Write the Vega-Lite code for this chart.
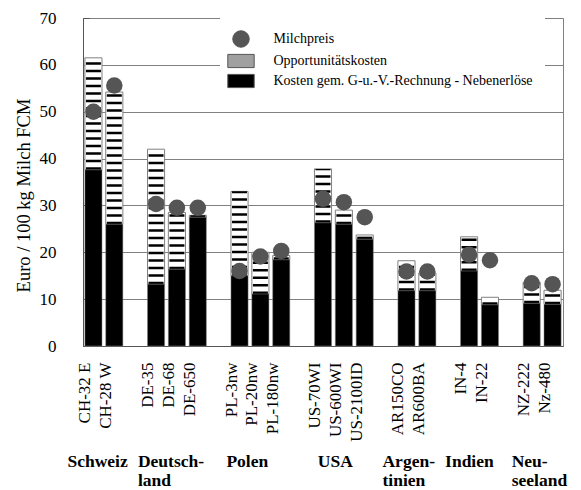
{
  "$schema": "https://vega.github.io/schema/vega-lite/v6.json",
  "width": 480,
  "height": 328,
  "autosize": {"type": "none"},
  "padding": {"left": 83, "top": 18, "right": 18, "bottom": 144},
  "background": "white",
  "config": {
    "font": "Liberation Serif",
    "view": {"stroke": "#808080", "strokeWidth": 1},
    "axis": {"labelFont": "Liberation Serif", "titleFont": "Liberation Serif", "labelColor": "black", "titleColor": "black", "domainColor": "#555555", "gridColor": "#808080", "tickColor": "#555555"},
    "legend": {"labelFont": "Liberation Serif"}
  },
  "data": {
    "values": [
      {"Betrieb": "CH-32 E", "Kosten": 37.6, "Gesamt": 61.5, "Milchpreis": 50.0},
      {"Betrieb": "CH-28 W", "Kosten": 26.0, "Gesamt": 54.2, "Milchpreis": 55.6},
      {"Betrieb": "DE-35", "Kosten": 13.2, "Gesamt": 42.0, "Milchpreis": 30.3},
      {"Betrieb": "DE-68", "Kosten": 16.4, "Gesamt": 28.5, "Milchpreis": 29.5},
      {"Betrieb": "DE-650", "Kosten": 27.5, "Gesamt": 27.9, "Milchpreis": 29.5},
      {"Betrieb": "PL-3nw", "Kosten": 15.0, "Gesamt": 33.0, "Milchpreis": 16.0},
      {"Betrieb": "PL-20nw", "Kosten": 11.1, "Gesamt": 20.0, "Milchpreis": 19.1},
      {"Betrieb": "PL-180nw", "Kosten": 18.4, "Gesamt": 19.3, "Milchpreis": 20.3},
      {"Betrieb": "US-70WI", "Kosten": 26.3, "Gesamt": 37.8, "Milchpreis": 31.4},
      {"Betrieb": "US-600WI", "Kosten": 26.0, "Gesamt": 29.0, "Milchpreis": 30.7},
      {"Betrieb": "US-2100ID", "Kosten": 22.8, "Gesamt": 23.7, "Milchpreis": 27.5},
      {"Betrieb": "AR150CO", "Kosten": 11.8, "Gesamt": 18.2, "Milchpreis": 15.9},
      {"Betrieb": "AR600BA", "Kosten": 11.8, "Gesamt": 15.6, "Milchpreis": 15.9},
      {"Betrieb": "IN-4", "Kosten": 16.0, "Gesamt": 23.3, "Milchpreis": 19.5},
      {"Betrieb": "IN-22", "Kosten": 8.8, "Gesamt": 10.4, "Milchpreis": 18.3},
      {"Betrieb": "NZ-222", "Kosten": 9.1, "Gesamt": 13.6, "Milchpreis": 13.4},
      {"Betrieb": "Nz-480", "Kosten": 8.9, "Gesamt": 11.9, "Milchpreis": 13.2}
    ]
  },
  "resolve": {"axis": {"x": "independent"}},
  "layer": [
    {
      "mark": {"type": "bar", "stroke": "#808080", "strokeWidth": 1, "fill": "white"},
      "encoding": {
        "x": {
          "field": "Betrieb", "type": "nominal",
          "scale": {"domain": ["CH-32 E", "CH-28 W", "_1", "DE-35", "DE-68", "DE-650", "_2", "PL-3nw", "PL-20nw", "PL-180nw", "_3", "US-70WI", "US-600WI", "US-2100ID", "_4", "AR150CO", "AR600BA", "_5", "IN-4", "IN-22", "_6", "NZ-222", "Nz-480"], "paddingInner": 0.18, "paddingOuter": 0.09},
          "axis": {
            "title": null, "orient": "bottom",
            "values": ["CH-32 E", "CH-28 W", "DE-35", "DE-68", "DE-650", "PL-3nw", "PL-20nw", "PL-180nw", "US-70WI", "US-600WI", "US-2100ID", "AR150CO", "AR600BA", "IN-4", "IN-22", "NZ-222", "Nz-480"],
            "labelAngle": -90, "labelFontSize": 17, "ticks": false, "labelPadding": 16, "labelOffset": -8, "labelOverlap": false, "grid": false
          }
        },
        "y": {
          "field": "Kosten", "type": "quantitative",
          "scale": {"domain": [0, 70], "nice": false},
          "axis": {
            "title": "Euro / 100 kg Milch FCM", "titleFontSize": 18.5, "titleFontWeight": "normal", "titlePadding": 6, "titleY": 177,
            "values": [0, 5, 10, 15, 20, 25, 30, 35, 40, 45, 50, 55, 60, 65, 70],
            "labelExpr": "datum.value % 10 === 0 ? datum.label : ''",
            "labelFontSize": 17, "labelPadding": 33, "tickSize": -6,
            "grid": true,
            "gridOpacity": {"condition": {"test": "datum.value % 10 !== 0", "value": 0}, "value": 1}
          }
        },
        "y2": {"field": "Gesamt"}
      }
    },
    {
      "mark": {"type": "rule", "strokeWidth": 15, "strokeDash": [2.5, 5], "color": "black", "strokeCap": "butt"},
      "encoding": {
        "x": {"field": "Betrieb", "type": "nominal", "axis": null},
        "y": {"field": "Kosten", "type": "quantitative"},
        "y2": {"field": "Gesamt"}
      }
    },
    {
      "mark": {"type": "bar", "stroke": "#808080", "strokeWidth": 0.5},
      "encoding": {
        "x": {"field": "Betrieb", "type": "nominal", "axis": null},
        "y": {"field": "Kosten", "type": "quantitative"},
        "y2": {"datum": 0},
        "fill": {
          "datum": "Kosten gem. G-u.-V.-Rechnung - Nebenerlöse", "type": "nominal",
          "scale": {
            "domain": ["Milchpreis", "Opportunitätskosten", "Kosten gem. G-u.-V.-Rechnung - Nebenerlöse"],
            "range": ["#555555", "#a0a0a0", "black"]
          },
          "legend": {
            "title": null, "orient": "none", "legendX": 137, "legendY": 0,
            "fillColor": "white", "padding": 12, "labelFontSize": 14, "labelOffset": 23.5,
            "symbolSize": 272, "rowPadding": 2, "labelLimit": 400, "symbolOpacity": 1,
            "symbolStrokeColor": "#555555", "symbolStrokeWidth": 1
          }
        }
      }
    },
    {
      "mark": {"type": "point", "filled": true, "size": 272, "opacity": 1},
      "encoding": {
        "x": {
          "field": "Betrieb", "type": "nominal",
          "axis": {
            "title": null, "orient": "bottom",
            "values": ["CH-32 E", "DE-68", "PL-20nw", "US-600WI", "AR150CO", "IN-4", "NZ-222"],
            "labelExpr": "datum.value === 'CH-32 E' ? 'Schweiz' : datum.value === 'DE-68' ? ['Deutsch-', 'land'] : datum.value === 'PL-20nw' ? 'Polen' : datum.value === 'US-600WI' ? 'USA' : datum.value === 'AR150CO' ? ['Argen-', 'tinien'] : datum.value === 'IN-4' ? 'Indien' : ['Neu-', 'seeland']",
            "labelAngle": 0, "labelAlign": "left", "labelBaseline": "top", "labelFontSize": 17.5, "labelFontWeight": "bold",
            "labelPadding": 106, "labelLineHeight": 19, "labelOverlap": false, "ticks": false, "domain": false, "grid": false,
            "labelOffset": {
              "condition": [
                {"test": "datum.value === 'CH-32 E'", "value": -26},
                {"test": "datum.value === 'DE-68'", "value": -39},
                {"test": "datum.value === 'PL-20nw'", "value": -34},
                {"test": "datum.value === 'US-600WI'", "value": -26},
                {"test": "datum.value === 'AR150CO'", "value": -24},
                {"test": "datum.value === 'IN-4'", "value": -24}
              ],
              "value": -20
            }
          }
        },
        "y": {"field": "Milchpreis", "type": "quantitative"},
        "fill": {"datum": "Milchpreis", "type": "nominal"},
        "shape": {
          "datum": "Milchpreis", "type": "nominal",
          "scale": {
            "domain": ["Milchpreis", "Opportunitätskosten", "Kosten gem. G-u.-V.-Rechnung - Nebenerlöse"],
            "range": ["circle", "M-1.6,-0.8H1.6V0.8H-1.6Z", "M-1.6,-0.8H1.6V0.8H-1.6Z"]
          },
          "legend": {
            "title": null, "orient": "none", "legendX": 137, "legendY": 0,
            "fillColor": "white", "padding": 12, "labelFontSize": 14, "labelOffset": 23.5,
            "symbolSize": 272, "rowPadding": 2, "labelLimit": 400, "symbolOpacity": 1,
            "symbolStrokeColor": "#555555", "symbolStrokeWidth": 1
          }
        }
      }
    }
  ]
}
